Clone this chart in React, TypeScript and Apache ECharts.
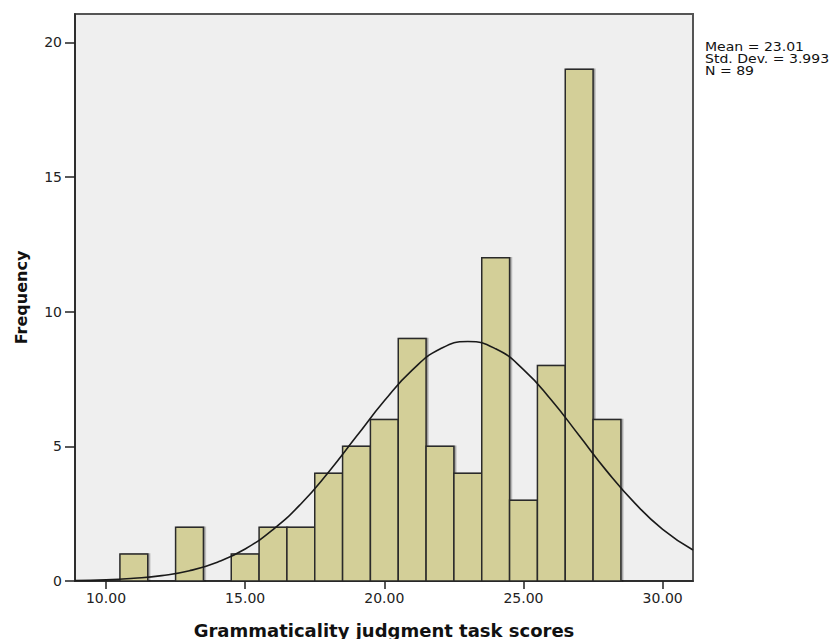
import React, { useEffect, useRef } from "react";
import * as echarts from "echarts";

// Histogram bins (bin centre score, frequency)
const binCenters = [11, 13, 15, 16, 17, 18, 19, 20, 21, 22, 23, 24, 25, 26, 27, 28];
const frequencies = [1, 2, 1, 2, 2, 4, 5, 6, 9, 5, 4, 12, 3, 8, 19, 6];

// Fitted normal curve
const curveX = [8.89, 10, 11, 12, 13, 14, 15, 16, 17, 18, 19, 20, 21, 22, 23, 24, 25, 26, 27, 28, 29, 30, 31.09];
const curveY = [0.02, 0.04, 0.10, 0.20, 0.38, 0.70, 1.19, 1.91, 2.86, 4.05, 5.37, 6.69, 7.83, 8.61, 8.89, 8.62, 7.85, 6.72, 5.40, 4.07, 2.89, 1.92, 1.15];

// Axis ticks
const xTicks = [10, 15, 20, 25, 30];
const yTicks = [0, 5, 10, 15, 20];

// Summary statistics
const statLines = ["Mean = 23.01", "Std. Dev. = 3.993", "N = 89"];

const FONT = "DejaVu Sans";

export default function App() {
  const ref = useRef<HTMLDivElement>(null);
  useEffect(() => {
    if (!ref.current) return;
    const chart = echarts.init(ref.current, null, { renderer: "svg" });
    const barData = binCenters.map((c, i) => [c, frequencies[i]]);
    const lineData = curveX.map((x, i) => [x, curveY[i]]);
    chart.setOption({
      animation: false,
      backgroundColor: "#ffffff",
      grid: {
        left: 75,
        right: 137,
        top: 14,
        bottom: 58,
        outerBoundsMode: "none",
        containLabel: false,
        show: true,
        backgroundColor: "#efefef",
        borderColor: "#555555",
        borderWidth: 2,
      },
      xAxis: {
        type: "value",
        min: 8.886,
        max: 31.09,
        name: "Grammaticality judgment task scores",
        nameLocation: "middle",
        nameGap: 40,
        nameTextStyle: { fontFamily: FONT, fontWeight: "bold", fontSize: 18, color: "#111" },
        axisLine: { show: true, onZero: false, lineStyle: { color: "#222", width: 1.5 } },
        axisTick: { show: true, length: 8, customValues: xTicks, lineStyle: { color: "#222", width: 1.5 } },
        axisLabel: {
          customValues: xTicks,
          margin: 10,
          fontFamily: FONT,
          fontSize: 14,
          color: "#222",
          formatter: (v: number) => v.toFixed(2),
        },
        splitLine: { show: false },
      },
      yAxis: {
        type: "value",
        min: 0,
        max: 21.05,
        name: "Frequency",
        nameLocation: "middle",
        nameRotate: 90,
        nameGap: 46,
        nameTextStyle: { fontFamily: FONT, fontWeight: "bold", fontSize: 16, color: "#111" },
        axisLine: { show: true, lineStyle: { color: "#222", width: 1.5 } },
        axisTick: { show: true, length: 10, customValues: yTicks, lineStyle: { color: "#222", width: 1.5 } },
        axisLabel: {
          customValues: yTicks,
          margin: 13,
          fontFamily: FONT,
          fontSize: 14,
          color: "#222",
        },
        splitLine: { show: false },
      },
      series: [
        {
          type: "custom",
          data: barData,
          encode: { x: 0, y: 1 },
          renderItem: (params: any, api: any) => {
            const c = api.value(0);
            const f = api.value(1);
            const p0 = api.coord([c - 0.5, f]);
            const p1 = api.coord([c + 0.5, 0]);
            return {
              type: "rect",
              shape: { x: p0[0], y: p0[1], width: p1[0] - p0[0], height: p1[1] - p0[1] },
              style: {
                fill: "#d3cf98",
                stroke: "#2a2a2a",
                lineWidth: 1.5,
                shadowColor: "rgba(0,0,0,0.35)",
                shadowOffsetX: 1.5,
                shadowOffsetY: 0,
                shadowBlur: 1,
              },
            };
          },
          z: 2,
        },
        {
          type: "line",
          data: lineData,
          smooth: true,
          showSymbol: false,
          symbol: "none",
          lineStyle: { color: "#1a1a1a", width: 1.6 },
          z: 3,
        },
      ],
      graphic: statLines.map((t, i) => ({
        type: "text",
        x: 705,
        y: 41 + i * 12,
        scaleX: 1.17,
        style: { text: t, fontFamily: FONT, fontSize: 12, lineHeight: 12, fill: "#111" },
      })),
    });
    return () => chart.dispose();
  }, []);
  return <div ref={ref} style={{ width: 830, height: 639, position: "absolute", left: 0, top: 0 }} />;
}
